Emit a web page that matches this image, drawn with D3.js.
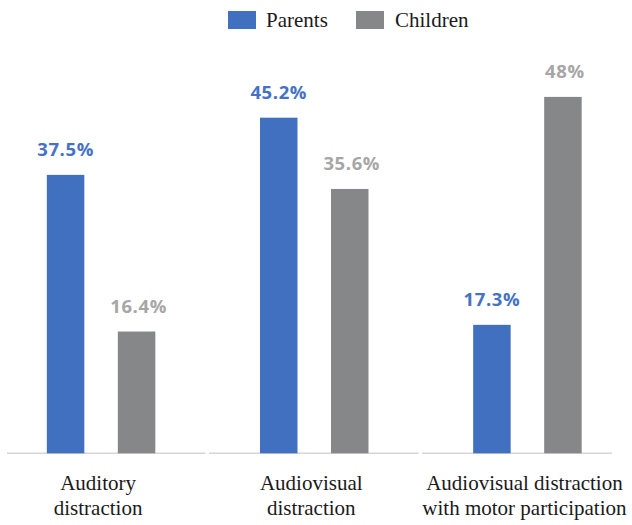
<!DOCTYPE html>
<html>
<head>
<meta charset="utf-8">
<script src="https://cdn.jsdelivr.net/npm/d3@7"></script>
<style>
  html, body { margin: 0; padding: 0; background: #ffffff; }
  svg { display: block; }
</style>
</head>
<body>
<svg id="chart" width="632" height="525"></svg>
<script>
// ---- data ----
const categories = ["Auditory distraction", "Audiovisual distraction", "Audiovisual distraction with motor participation"];
const categoryLines = [["Auditory", "distraction"], ["Audiovisual", "distraction"], ["Audiovisual distraction", "with motor participation"]];
const seriesNames = ["Parents", "Children"];
const parentsValues = [37.5, 45.2, 17.3];
const childrenValues = [16.4, 35.6, 48];
const valueLabels = {
  Parents: ["37.5%", "45.2%", "17.3%"],
  Children: ["16.4%", "35.6%", "48%"]
};
const seriesColors = ["#4170c0", "#858789"];
const labelColors = ["#4472c4", "#a6a6a6"];

// ---- build ----
const svg = d3.select("#chart");
const baseY = 453.3;

const x0 = d3.scaleBand().domain(categories).range([-5.5, 634]);
const bw = x0.bandwidth();
const x1 = d3.scaleBand().domain(seriesNames)
  .range([bw / 2 - 54.25, bw / 2 + 54.25])
  .paddingInner(0.472).paddingOuter(0);
const y = d3.scaleLinear().domain([0, 50]).range([baseY, baseY - 371.25]);
const color = d3.scaleOrdinal().domain(seriesNames).range(seriesColors);
const lcolor = d3.scaleOrdinal().domain(seriesNames).range(labelColors);

const rows = categories.map((c, i) => ({
  cat: c,
  lines: categoryLines[i],
  vals: [
    { s: "Parents", v: parentsValues[i], t: valueLabels.Parents[i] },
    { s: "Children", v: childrenValues[i], t: valueLabels.Children[i] }
  ]
}));

// baseline segments
const segs = [[7, 205.5], [209, 418.5], [422, 612]];
svg.append("g").selectAll("line").data(segs).join("line")
  .attr("x1", d => d[0]).attr("x2", d => d[1])
  .attr("y1", baseY).attr("y2", baseY)
  .attr("stroke", "#d6d6d6").attr("stroke-width", 1.6);

const groups = svg.append("g").selectAll("g").data(rows).join("g")
  .attr("transform", d => `translate(${x0(d.cat)},0)`);

groups.selectAll("rect").data(d => d.vals).join("rect")
  .attr("x", d => x1(d.s))
  .attr("width", x1.bandwidth())
  .attr("y", d => y(d.v))
  .attr("height", d => baseY - y(d.v))
  .attr("fill", d => color(d.s));

groups.selectAll("text.val").data(d => d.vals).join("text")
  .attr("class", "val")
  .attr("x", d => x1(d.s) + x1.bandwidth() / 2 + (d.s === "Children" ? 2 : 0))
  .attr("y", d => y(d.v) - 19)
  .attr("text-anchor", "middle")
  .attr("font-family", "'Open Sans', 'DejaVu Sans', sans-serif")
  .attr("font-weight", 700)
  .attr("font-size", 18.5)
  .attr("letter-spacing", 0.6)
  .attr("fill", d => lcolor(d.s))
  .text(d => d.t);

// category labels
groups.append("text")
  .attr("text-anchor", "middle")
  .attr("font-family", "'Liberation Serif', 'Times New Roman', serif")
  .attr("font-size", 21)
  .attr("fill", "#1a1a1a")
  .selectAll("tspan").data(d => d.lines).join("tspan")
  .attr("x", bw / 2 - 3)
  .attr("y", (d, i) => 490 + i * 25)
  .text(d => d);

// legend
const legendX = [228, 356];
const legend = svg.append("g").selectAll("g").data(seriesNames).join("g")
  .attr("transform", (d, i) => `translate(${legendX[i]},11)`);
legend.append("rect")
  .attr("width", 28).attr("height", 18)
  .attr("fill", d => color(d));
legend.append("text")
  .attr("x", (d, i) => i === 0 ? 38 : 39)
  .attr("y", 16)
  .attr("font-family", "'Liberation Serif', 'Times New Roman', serif")
  .attr("font-size", 21)
  .attr("fill", "#1a1a1a")
  .text(d => d);
</script>
</body>
</html>
